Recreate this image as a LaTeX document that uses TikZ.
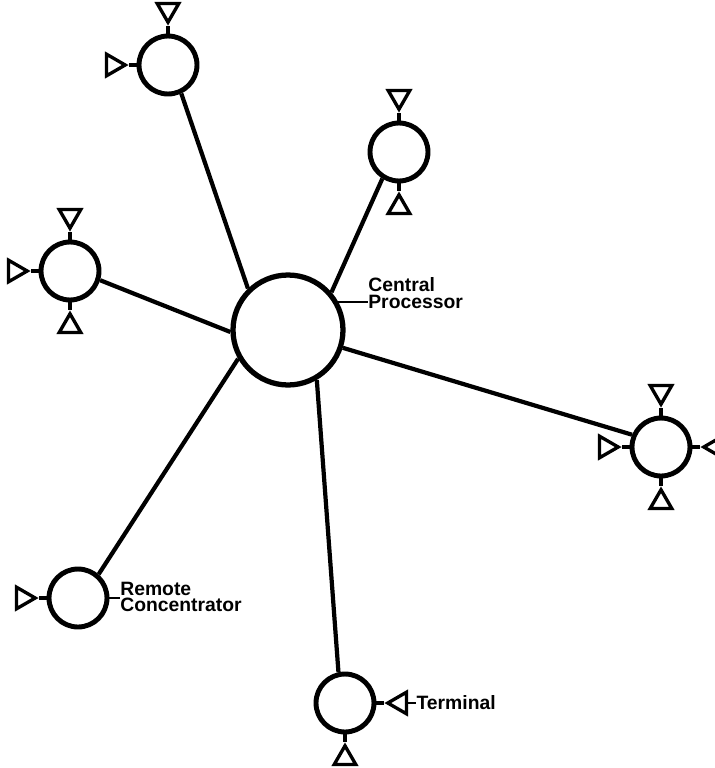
\documentclass[tikz,border=0pt]{standalone}
\usepackage{fontspec}
\setmainfont{Liberation Sans}
\usetikzlibrary{positioning,shapes.geometric}
\tikzset{
  hub/.style={circle,draw,line width=3pt,fill=white,
              minimum size=2.2cm,inner sep=0pt},
  site/.style={hub,line width=2.8pt,minimum size=1.16cm},
  link/.style={line width=2.4pt},
  stem/.style={line width=2pt},
  tick/.style={line width=1.2pt},
  tri/.style={regular polygon,regular polygon sides=3,draw,
              line width=1.9pt,minimum size=0.5cm,inner sep=0pt},
  trup/.style={tri},
  trdown/.style={tri,shape border rotate=180},
  trright/.style={tri,shape border rotate=270},
  trleft/.style={tri,shape border rotate=90},
  lbl/.style={font=\bfseries\fontsize{11}{9.5}\selectfont,
              align=left,inner sep=0pt},
}
\begin{document}
\begin{tikzpicture}[x=0.02cm,y=-0.02cm,node distance=0.16cm]
  \useasboundingbox (0,0) rectangle (715,768);
  % Central processor
  \node[hub](cpu) at (288,330){};
  % Sites
  \node[site](tl) at (168,65){};
  \node[site](tr) at (399,152){};
  \node[site](lf) at (70,271){};
  \node[site](rt) at (661,447){};
  \node[site](rc) at (78,598){};
  \node[site](tm) at (345,703){};

  % Links to the hub
  \draw[link](cpu.134)--(tl.-65);
  \draw[link](cpu.41)--(tr.-122);
  \draw[link](cpu.182)--(lf.-17);
  \draw[link](cpu.-18)--(rt.157);
  \draw[link](cpu.210)--(rc.49);
  \draw[link](cpu.-60)--(tm.102);

  % Terminals
  \node[trdown,above=of tl](tl-n){};
  \node[trright,left=of tl](tl-w){};
  \node[trdown,above=of tr](tr-n){};
  \node[trup,below=of tr](tr-s){};
  \node[trdown,above=of lf](lf-n){};
  \node[trright,left=of lf](lf-w){};
  \node[trup,below=of lf](lf-s){};
  \node[trdown,above=of rt](rt-n){};
  \node[trright,left=of rt](rt-w){};
  \node[trleft,right=of rt](rt-e){};
  \node[trup,below=of rt](rt-s){};
  \node[trright,left=of rc](rc-w){};
  \node[trleft,right=of tm](tm-e){};
  \node[trup,below=of tm](tm-s){};

  % Stems
  \draw[stem](tl.north)--(tl-n.south);
  \draw[stem](tl.west)--(tl-w.east);
  \draw[stem](tr.north)--(tr-n.south);
  \draw[stem](tr.south)--(tr-s.north);
  \draw[stem](lf.north)--(lf-n.south);
  \draw[stem](lf.west)--(lf-w.east);
  \draw[stem](lf.south)--(lf-s.north);
  \draw[stem](rt.north)--(rt-n.south);
  \draw[stem](rt.west)--(rt-w.east);
  \draw[stem](rt.east)--(rt-e.west);
  \draw[stem](rt.south)--(rt-s.north);
  \draw[stem](rc.west)--(rc-w.east);
  \draw[stem](tm.east)--(tm-e.west);
  \draw[stem](tm.south)--(tm-s.north);

  % Labels
  \node[lbl,anchor=west](cplbl) at (368,293){Central\\Processor};
  \draw[tick](cpu.29)--(cpu.29-|cplbl.west);
  \node[lbl,anchor=west](rclbl) at (120,597){Remote\\Concentrator};
  \draw[tick](rc.east)--(rc.east-|rclbl.west);
  \node[lbl,right=0.16cm of tm-e](tmlbl){Terminal};
  \draw[tick](tm-e.east)--(tmlbl.west);
\end{tikzpicture}
\end{document}
